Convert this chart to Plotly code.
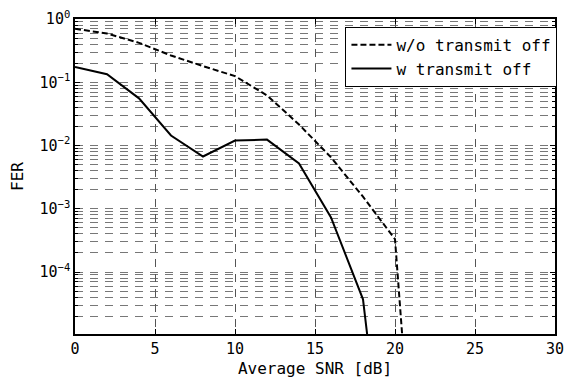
import plotly.graph_objects as go

snr_wo = [0, 2, 4, 6, 8, 10, 12, 14, 16, 18, 20, 22]
fer_wo = [0.70, 0.59, 0.42, 0.265, 0.18, 0.125, 0.062, 0.0215, 0.0065, 0.00155, 3.3e-4, 6e-11]

snr_w = [0, 2, 4, 6, 8, 10, 12, 14, 16, 18, 20]
fer_w = [0.175, 0.134, 0.0557, 0.0144, 0.0067, 0.012, 0.0124, 0.0052, 7.3e-4, 3.7e-5, 2e-9]

x_ticks = [0, 5, 10, 15, 20, 25, 30]
y_ticks = [1, 1e-1, 1e-2, 1e-3, 1e-4]
y_ticktext = ["10<sup>0</sup>", "10<sup>−1</sup>", "10<sup>−2</sup>", "10<sup>−3</sup>", "10<sup>−4</sup>"]
y_minor = [k * 10.0 ** e for e in range(-5, 0) for k in range(2, 10)]

FONT = "DejaVu Sans Mono"

fig = go.Figure()
fig.add_trace(go.Scatter(x=snr_wo, y=fer_wo, mode="lines", name="w/o transmit off",
                         line=dict(color="black", width=2, dash="6px,3px")))
fig.add_trace(go.Scatter(x=snr_w, y=fer_w, mode="lines", name="w transmit off",
                         line=dict(color="black", width=2)))

fig.update_layout(
    width=564, height=383,
    margin=dict(l=75, r=8, t=19, b=49),
    paper_bgcolor="white", plot_bgcolor="white",
    font=dict(family=FONT, size=15, color="black"),
    showlegend=True,
    legend=dict(x=1.003, y=0.975, xanchor="right", yanchor="top",
                bgcolor="white", bordercolor="black", borderwidth=1,
                font=dict(size=16, family=FONT), tracegroupgap=0,
                itemwidth=40),
)
fig.update_xaxes(
    range=[0, 30], tickvals=x_ticks, ticks="inside", ticklen=5, tickcolor="black",
    showline=True, linecolor="black", linewidth=1.5, mirror="ticks",
    showgrid=True, gridcolor="#555", griddash="8px,7px", gridwidth=1,
    zeroline=False, tickfont=dict(size=15), ticklabeloverflow="allow",
    automargin=False,
    title=dict(text="Average SNR [dB]", standoff=6, font=dict(size=16)),
)
fig.update_yaxes(
    type="log", range=[-4.98, 0.0], tickvals=y_ticks, ticktext=y_ticktext,
    ticks="inside", ticklen=5, tickcolor="black",
    showline=True, linecolor="black", linewidth=1.5, mirror="ticks",
    showgrid=True, gridcolor="#777", griddash="8px,7px", gridwidth=1,
    zeroline=False, tickfont=dict(size=15),
    minor=dict(tickvals=y_minor, ticks="inside", ticklen=3, tickcolor="black",
               showgrid=True, gridcolor="#777", griddash="8px,7px", gridwidth=1),
    title=dict(text="FER", standoff=12, font=dict(size=16)),
)

fig.write_html("out.html")
